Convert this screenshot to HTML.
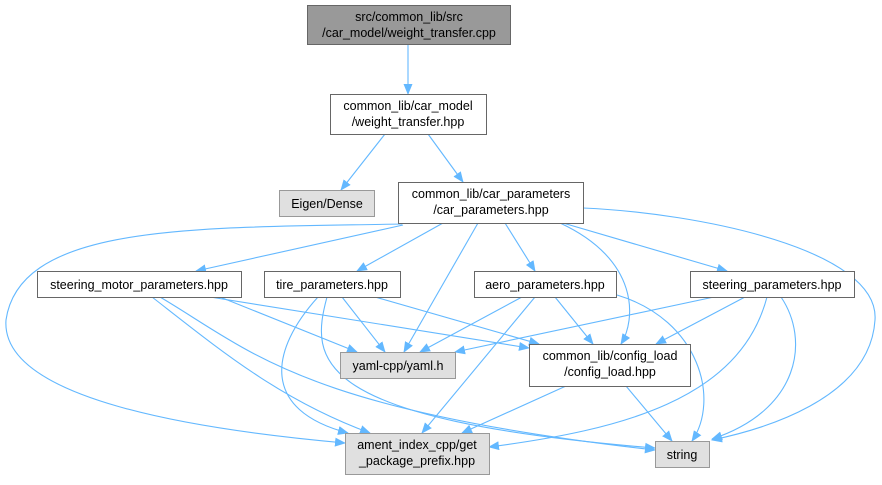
<!DOCTYPE html>
<html><head><meta charset="utf-8"><style>
body{margin:0;background:#fff}
svg text{font-family:"Liberation Sans",sans-serif;font-size:12.5px;fill:#000;text-anchor:middle}
</style></head><body>
<svg width="882" height="480" viewBox="0 0 882 480" xmlns="http://www.w3.org/2000/svg">
<defs><marker id="a" markerWidth="11" markerHeight="9" refX="10" refY="4.5" orient="auto" markerUnits="userSpaceOnUse"><path d="M0,0 L11,4.5 L0,9 z" fill="#63b8ff"/></marker></defs>
<g fill="none" stroke="#63b8ff" stroke-width="1.1" marker-end="url(#a)">
<path d="M408,44 L408,94"/>
<path d="M385,134 L341,190"/>
<path d="M428,134 L463,182"/>
<path d="M402,224 C200,228 20,222 6,320 C0,400 200,430 345,443"/>
<path d="M403,225 L196,271"/>
<path d="M443,223 L357,271"/>
<path d="M478,223 L404,352"/>
<path d="M505,223 L535,271"/>
<path d="M560,223 C640,260 636,320 621,344"/>
<path d="M563,223 L727,271"/>
<path d="M583,208 C700,213 880,250 875,320 C870,400 760,430 712,440"/>
<path d="M220,297 L357,352"/>
<path d="M210,297 L529,348"/>
<path d="M152,297 C220,350 280,400 370,433"/>
<path d="M160,297 C250,350 300,410 655,450"/>
<path d="M318,297 C270,350 260,410 348,433"/>
<path d="M327,297 C310,360 310,420 655,448"/>
<path d="M342,297 L385,352"/>
<path d="M375,297 L539,344"/>
<path d="M522,297 L420,352"/>
<path d="M535,297 L422,433"/>
<path d="M555,297 L593,344"/>
<path d="M617,295 C700,320 720,400 692,441"/>
<path d="M714,297 L455,352"/>
<path d="M745,297 L656,344"/>
<path d="M767,297 C740,400 620,430 489,447"/>
<path d="M781,297 C810,340 800,410 712,439"/>
<path d="M566,386 L462,433"/>
<path d="M626,386 L672,441"/>
</g>
<g stroke-width="1">
<rect x="307.5" y="5.5" width="203" height="39" fill="#999" stroke="#666"/>
<rect x="330.5" y="94.5" width="156" height="40" fill="#fff" stroke="#666"/>
<rect x="279.5" y="190.5" width="95" height="26" fill="#e0e0e0" stroke="#999"/>
<rect x="398.5" y="182.5" width="185" height="41" fill="#fff" stroke="#666"/>
<rect x="37.5" y="271.5" width="204" height="26" fill="#fff" stroke="#666"/>
<rect x="264.5" y="271.5" width="136" height="26" fill="#fff" stroke="#666"/>
<rect x="474.5" y="271.5" width="142" height="26" fill="#fff" stroke="#666"/>
<rect x="690.5" y="271.5" width="164" height="26" fill="#fff" stroke="#666"/>
<rect x="340.5" y="352.5" width="115" height="26" fill="#e0e0e0" stroke="#999"/>
<rect x="529.5" y="344.5" width="161" height="42" fill="#fff" stroke="#666"/>
<rect x="345.5" y="433.5" width="144" height="41" fill="#e0e0e0" stroke="#999"/>
<rect x="655.5" y="441.5" width="54" height="26" fill="#e0e0e0" stroke="#999"/>
</g>
<text x="409" y="21">src/common_lib/src</text>
<text x="409" y="37">/car_model/weight_transfer.cpp</text>
<text x="408" y="110">common_lib/car_model</text>
<text x="408" y="126">/weight_transfer.hpp</text>
<text x="327" y="208">Eigen/Dense</text>
<text x="491" y="198">common_lib/car_parameters</text>
<text x="491" y="214">/car_parameters.hpp</text>
<text x="139" y="289">steering_motor_parameters.hpp</text>
<text x="332" y="289">tire_parameters.hpp</text>
<text x="545" y="289">aero_parameters.hpp</text>
<text x="772" y="289">steering_parameters.hpp</text>
<text x="398" y="370">yaml-cpp/yaml.h</text>
<text x="610" y="360">common_lib/config_load</text>
<text x="610" y="376">/config_load.hpp</text>
<text x="417" y="449">ament_index_cpp/get</text>
<text x="417" y="465">_package_prefix.hpp</text>
<text x="682" y="459">string</text>
</svg>
</body></html>
